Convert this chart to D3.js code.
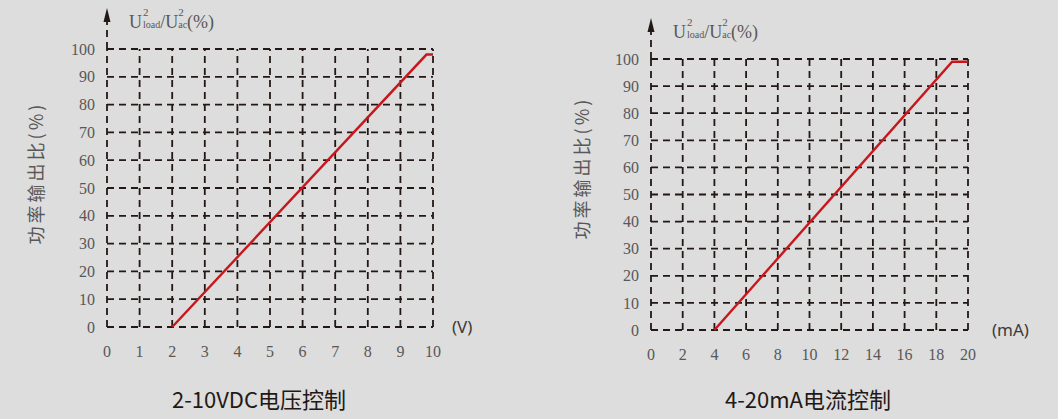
<!DOCTYPE html>
<html>
<head>
<meta charset="utf-8">
<script src="https://cdn.jsdelivr.net/npm/d3@7"></script>
<style>
  body { margin: 0; background: #dcdddc; }
  svg { display: block; }
</style>
</head>
<body>
<div id="grafico"></div>
<script>
// dados
const yTicks = [0, 10, 20, 30, 40, 50, 60, 70, 80, 90, 100];
const vTicks = [0, 1, 2, 3, 4, 5, 6, 7, 8, 9, 10];
const maTicks = [0, 2, 4, 6, 8, 10, 12, 14, 16, 18, 20];
const vCurveX = [2, 9.8, 10];
const vCurveY = [0, 98, 98];
const maCurveX = [4, 19, 20];
const maCurveY = [0, 99, 99];

const svg = d3.select("#grafico")
  .append("svg")
  .attr("width", 1058)
  .attr("height", 419);

const gridColor = "#231815";
const labelColor = "#595757";

function drawChart(cfg) {
  const x = d3.scaleLinear().domain([cfg.xTicks[0], cfg.xTicks[cfg.xTicks.length - 1]]).range(cfg.xRange);
  const y = d3.scaleLinear().domain([0, 100]).range(cfg.yRange);
  const g = svg.append("g");

  // linhas horizontais tracejadas
  g.selectAll(".hgrid")
    .data(yTicks)
    .enter()
    .append("line")
    .attr("x1", x.range()[0])
    .attr("x2", x.range()[1])
    .attr("y1", d => y(d))
    .attr("y2", d => y(d))
    .attr("stroke", gridColor)
    .attr("stroke-width", 1.8)
    .attr("stroke-dasharray", "7,5");

  // linhas verticais tracejadas
  g.selectAll(".vgrid")
    .data(cfg.xTicks)
    .enter()
    .append("line")
    .attr("x1", d => x(d))
    .attr("x2", d => x(d))
    .attr("y1", y(0))
    .attr("y2", y(100))
    .attr("stroke", gridColor)
    .attr("stroke-width", 1.8)
    .attr("stroke-dasharray", "7,5");

  // eixo y com seta
  const x0 = x(cfg.xTicks[0]);
  g.append("line")
    .attr("x1", x0).attr("x2", x0)
    .attr("y1", y(100)).attr("y2", cfg.arrowTop + 12)
    .attr("stroke", gridColor)
    .attr("stroke-width", 1.8)
    .attr("stroke-dasharray", "7,5");
  g.append("path")
    .attr("d", `M${x0},${cfg.arrowTop} L${x0 - 3.5},${cfg.arrowTop + 14} L${x0 + 3.5},${cfg.arrowTop + 14} Z`)
    .attr("fill", gridColor);

  // rótulos do eixo y
  g.selectAll(".ylab")
    .data(yTicks)
    .enter()
    .append("text")
    .attr("x", x0 - 12)
    .attr("y", d => y(d))
    .attr("dy", "0.35em")
    .attr("text-anchor", "end")
    .attr("font-family", "Liberation Serif")
    .attr("font-size", "16px")
    .attr("fill", labelColor)
    .text(d => d);

  // rótulos do eixo x
  g.selectAll(".xlab")
    .data(cfg.xTicks)
    .enter()
    .append("text")
    .attr("x", d => x(d))
    .attr("y", y(0) + 30)
    .attr("text-anchor", "middle")
    .attr("font-family", "Liberation Serif")
    .attr("font-size", "16px")
    .attr("fill", labelColor)
    .text(d => d);

  // curva vermelha
  const pts = cfg.curveX.map((d, i) => [d, cfg.curveY[i]]);
  g.append("path")
    .datum(pts)
    .attr("d", d3.line().x(d => x(d[0])).y(d => y(d[1])))
    .attr("fill", "none")
    .attr("stroke", "#c8161d")
    .attr("stroke-width", 2.4);

  // unidade do eixo x
  g.append("text")
    .attr("x", x.range()[1] + cfg.unitDx)
    .attr("y", y(0))
    .attr("dy", "0.35em")
    .attr("font-family", "Noto Sans")
    .attr("font-size", "17px")
    .attr("fill", "#3e3a39")
    .text(cfg.unit);

  // rótulo U²load/U²ac(%) - os expoentes ficam em textos separados
  const base = cfg.arrowTop + 20;
  const t = g.append("text")
    .attr("x", x0 + 22)
    .attr("y", base)
    .attr("font-family", "Liberation Serif")
    .attr("font-size", "18px")
    .attr("fill", labelColor);
  t.append("tspan").text("U");
  t.append("tspan").attr("font-size", "10px").attr("dx", 1).text("load");
  t.append("tspan").text("/U");
  t.append("tspan").attr("font-size", "10px").text("ac");
  t.append("tspan").text("(%)");
  [1, 7].forEach(i => {
    const p = t.node().getStartPositionOfChar(i);
    g.append("text")
      .attr("x", p.x)
      .attr("y", base - 12)
      .attr("font-family", "Liberation Serif")
      .attr("font-size", "11px")
      .attr("fill", labelColor)
      .text("2");
  });

  // rótulo vertical
  g.append("text")
    .attr("transform", `translate(${cfg.yLabelX},${cfg.yLabelY}) rotate(-90)`)
    .attr("text-anchor", "middle")
    .attr("dy", "0.35em")
    .attr("font-family", "Noto Sans CJK SC")
    .attr("font-size", "18px")
    .attr("letter-spacing", "3px")
    .attr("fill", labelColor)
    .text("功率输出比(%)");

  // título
  g.append("text")
    .attr("x", cfg.titleX)
    .attr("y", 408)
    .attr("text-anchor", "middle")
    .attr("font-family", "Noto Sans CJK SC")
    .attr("font-size", "22px")
    .attr("fill", gridColor)
    .text(cfg.title);
}

drawChart({
  xTicks: vTicks, curveX: vCurveX, curveY: vCurveY,
  xRange: [107, 433], yRange: [327, 49], arrowTop: 8,
  unit: "(V)", unitDx: 19, yLabelX: 37, yLabelY: 173,
  title: "2-10VDC电压控制", titleX: 259
});

drawChart({
  xTicks: maTicks, curveX: maCurveX, curveY: maCurveY,
  xRange: [651, 968], yRange: [330, 59], arrowTop: 18,
  unit: "(mA)", unitDx: 24, yLabelX: 583, yLabelY: 168,
  title: "4-20mA电流控制", titleX: 808
});
</script>
</body>
</html>
